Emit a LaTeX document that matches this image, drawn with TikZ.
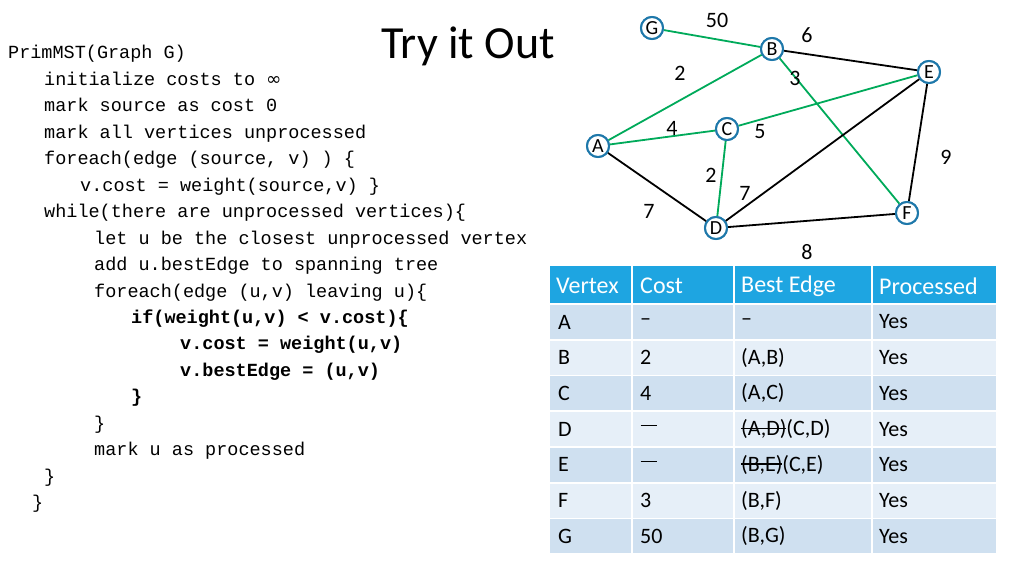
\documentclass[tikz,border=0pt]{standalone}
\usepackage{fontspec}
\setmainfont{Carlito}
\newfontfamily\codefont{Liberation Mono}
\newfontfamily\symfont{DejaVu Sans}
\definecolor{vblue}{RGB}{30,120,170}
\definecolor{tgreen}{RGB}{0,170,90}
\definecolor{hdr}{RGB}{30,165,225}
\definecolor{rowa}{RGB}{207,224,240}
\definecolor{rowb}{RGB}{230,239,248}
\newcommand\stk[1]{\setbox0\hbox{#1}\rlap{\rule[0.3em]{\wd0}{0.06em}}\box0}
\begin{document}
\begin{tikzpicture}[x=1pt,y=-1pt,
  vtx/.style={circle,draw=vblue,line width=2pt,fill=white,minimum size=22pt,inner sep=0pt,font=\fontsize{20}{20}\selectfont},
  lbl/.style={font=\fontsize{22}{22}\selectfont},
  tree/.style={draw=tgreen,line width=1.8pt},
  plain/.style={draw=black,line width=1.8pt},
  code/.style={anchor=base west,inner sep=0pt,font=\codefont\fontsize{18.5}{18.5}\selectfont},
  bcode/.style={code,font=\codefont\bfseries\fontsize{18.5}{18.5}\selectfont},
  cell/.style={anchor=west,inner sep=0pt,font=\fontsize{22}{22}\selectfont}]
\useasboundingbox (0,0) rectangle (1024,576);
\node[font=\fontsize{46}{46}\selectfont] (title) at (468,46) {Try it Out};
% code
\node[code] (c1) at (8,58) {PrimMST(Graph G)};
\node[code] (c2) at (44,85) {initialize costs to {\symfont ∞}};
\node[code] (c3) at (44,111) {mark source as cost 0};
\node[code] (c4) at (44,138) {mark all vertices unprocessed};
\node[code] (c5) at (44,164) {foreach(edge (source, v) ) \{};
\node[code] (c6) at (80,191) {v.cost = weight(source,v) \}};
\node[code] (c7) at (44,217) {while(there are unprocessed vertices)\{};
\node[code] (c8) at (94,244) {let u be the closest unprocessed vertex};
\node[code] (c9) at (94,270) {add u.bestEdge to spanning tree};
\node[code] (c10) at (94,297) {foreach(edge (u,v) leaving u)\{};
\node[bcode] (c11) at (131,323) {if(weight(u,v) < v.cost)\{};
\node[bcode] (c12) at (180,349) {v.cost = weight(u,v)};
\node[bcode] (c13) at (180,376) {v.bestEdge = (u,v)};
\node[bcode] (c14) at (131,402) {\}};
\node[code] (c15) at (94,429) {\}};
\node[code] (c16) at (94,455) {mark u as processed};
\node[code] (c17) at (44,482) {\}};
\node[code] (c18) at (32,508) {\}};
% graph
\node[vtx] (G) at (652,28) {G};
\node[vtx] (B) at (772,49) {B};
\node[vtx] (E) at (929,72) {E};
\node[vtx] (C) at (727,129) {C};
\node[vtx] (A) at (598,146) {A};
\node[vtx] (D) at (716,228) {D};
\node[vtx] (F) at (907,213) {F};
\path[tree] (G) -- (B);
\path[plain] (B) -- (E);
\path[tree] (A) -- (B);
\path[tree] (B) -- (F);
\path[tree] (C) -- (E);
\path[tree] (A) -- (C);
\path[tree] (C) -- (D);
\path[plain] (A) -- (D);
\path[plain] (D) -- (E);
\path[plain] (D) -- (F);
\path[plain] (E) -- (F);
\foreach \n in {G,B,E,C,A,D,F}{\node[vtx] at (\n) {\n};}
\node[lbl] (l50) at (717,20) {50};
\node[lbl] (l6) at (807,35) {6};
\node[lbl] (l2a) at (680,73) {2};
\node[lbl] (l3) at (795,78) {3};
\node[lbl] (l4) at (672,128) {4};
\node[lbl] (l5) at (760,132) {5};
\node[lbl] (l9) at (946,157) {9};
\node[lbl] (l2b) at (711,175) {2};
\node[lbl] (l7a) at (745,193) {7};
\node[lbl] (l7b) at (649,211) {7};
\node[lbl] (l8) at (807,252) {8};
% table
\fill[hdr] (550,266) rectangle (996,303);
\foreach \i in {0,...,6}{
  \pgfmathsetmacro{\ya}{305+\i*35.7}
  \pgfmathsetmacro{\yb}{\ya+34}
  \ifodd\i \fill[rowb] (550,\ya) rectangle (996,\yb);
  \else \fill[rowa] (550,\ya) rectangle (996,\yb); \fi}
\foreach \x in {632,734,872}{\draw[white,line width=2pt] (\x,266) -- (\x,556);}
\foreach \x/\t in {556/Vertex,640/Cost,741/Best Edge,879/Processed}
  \node[cell,white,font=\fontsize{24}{24}\selectfont] at (\x,286) {\t};
\foreach \r/\v/\c [count=\i from 0] in {
  A/{--}/{--},B/2/{(A,B)},C/4/{(A,C)},D/{\stk{7 }2}/{\stk{(A,D)}(C,D)},
  E/{\stk{6 }5}/{\stk{(B,E)}(C,E)},F/3/{(B,F)},G/50/{(B,G)}}{
  \pgfmathsetmacro{\yc}{322+\i*35.7}
  \node[cell] at (558,\yc) {\r};
  \node[cell] at (640,\yc) {\v};
  \node[cell] at (741,\yc) {\c};
  \node[cell] at (879,\yc) {Yes};}
\end{tikzpicture}
\end{document}
